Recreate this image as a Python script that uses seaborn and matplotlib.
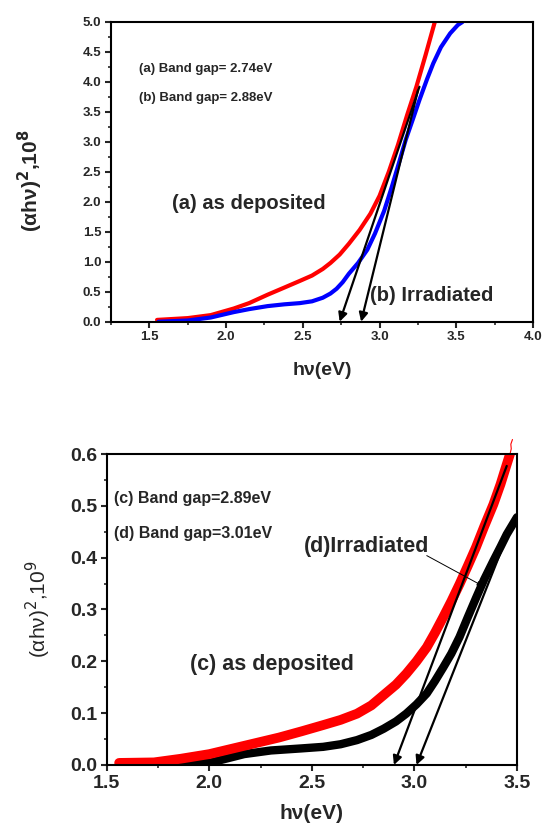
import numpy as np
import pandas as pd
import matplotlib
matplotlib.use("Agg")
import matplotlib.pyplot as plt
from matplotlib.ticker import MultipleLocator, FormatStrFormatter
import seaborn as sns

# datos leidos de la figura
# grafica superior: (a) as deposited / (b) irradiated
e_a = [1.55, 1.75, 1.90, 2.05, 2.15, 2.27, 2.38, 2.48, 2.56, 2.63, 2.68, 2.74, 2.80,
       2.87, 2.94, 3.00, 3.06, 3.12, 3.18, 3.24, 3.30, 3.36]
v_a = [0.03, 0.06, 0.11, 0.22, 0.31, 0.45, 0.57, 0.68, 0.77, 0.88, 0.98, 1.12, 1.30,
       1.53, 1.80, 2.10, 2.50, 2.95, 3.45, 3.92, 4.45, 5.00]
e_b = [1.56, 1.75, 1.90, 2.05, 2.15, 2.27, 2.38, 2.48, 2.56, 2.63, 2.68, 2.72, 2.76,
       2.80, 2.86, 2.92, 2.97, 3.03, 3.08, 3.13, 3.17, 3.22, 3.26, 3.31, 3.35, 3.40,
       3.46, 3.51, 3.54]
v_b = [0.00, 0.02, 0.07, 0.16, 0.21, 0.26, 0.29, 0.31, 0.34, 0.40, 0.47, 0.55, 0.66,
       0.80, 0.98, 1.20, 1.47, 1.85, 2.25, 2.68, 3.03, 3.40, 3.70, 4.05, 4.31, 4.58,
       4.81, 4.95, 5.00]

# grafica inferior: (c) as deposited / (d) irradiated
e_c = [1.56, 1.73, 1.86, 2.00, 2.17, 2.34, 2.45, 2.555, 2.64, 2.72, 2.79, 2.85, 2.91,
       2.96, 3.01, 3.06, 3.10, 3.14, 3.18, 3.22, 3.26, 3.30, 3.34, 3.385, 3.42, 3.45, 3.466]
v_c = [0.004, 0.005, 0.012, 0.021, 0.037, 0.053, 0.065, 0.077, 0.087, 0.099, 0.115,
       0.135, 0.155, 0.176, 0.200, 0.227, 0.255, 0.285, 0.316, 0.349, 0.384, 0.420,
       0.460, 0.503, 0.542, 0.580, 0.600]
e_c_tail = [3.466, 3.472, 3.470, 3.478]
v_c_tail = [0.600, 0.610, 0.619, 0.628]
e_d = [1.56, 1.83, 2.00, 2.17, 2.30, 2.45, 2.555, 2.64, 2.72, 2.79, 2.85, 2.91, 2.96,
       3.01, 3.06, 3.10, 3.14, 3.18, 3.22, 3.26, 3.30, 3.34, 3.385, 3.42, 3.45, 3.50]
v_d = [0.000, 0.000, 0.004, 0.021, 0.028, 0.032, 0.035, 0.040, 0.048, 0.058, 0.070,
       0.084, 0.099, 0.117, 0.138, 0.162, 0.188, 0.215, 0.247, 0.285, 0.322, 0.358,
       0.394, 0.421, 0.445, 0.478]

# rectas tangentes (inicio, corte con el eje)
tan_top = [((3.26, 3.92), (2.74, 0.0)), ((3.25, 3.86), (2.88, 0.0))]
tan_bot = [((3.45, 0.577), (2.90, 0.0)), ((3.45, 0.44), (3.01, 0.0))]

sns.set_style("ticks")
plt.rcParams['font.family'] = ['Liberation Sans', 'DejaVu Sans']

fig = plt.figure(figsize=(5.45, 8.27), dpi=100)
ax1 = fig.add_axes([0.2037, 0.611, 0.7743, 0.3624])
ax2 = fig.add_axes([0.196, 0.075, 0.7526, 0.376])

# ---- grafica superior ----
sns.lineplot(x=e_a, y=v_a, ax=ax1, color="#ff0000", lw=3, sort=False, solid_joinstyle="round")
sns.lineplot(x=e_b, y=v_b, ax=ax1, color="#0000ff", lw=3, sort=False, solid_joinstyle="round")
for (x0, y0), (x1, y1) in tan_top:
    ax1.annotate("", xy=(x1, y1), xytext=(x0, y0),
                 arrowprops=dict(arrowstyle="-|>", color="k", lw=1.6,
                                 mutation_scale=13, shrinkA=0, shrinkB=0))
ax1.set_xlim(1.25, 4.0)
ax1.set_ylim(0, 5.0)
ax1.xaxis.set_major_locator(MultipleLocator(0.5))
ax1.xaxis.set_minor_locator(MultipleLocator(0.25))
ax1.yaxis.set_major_locator(MultipleLocator(0.5))
ax1.yaxis.set_minor_locator(MultipleLocator(0.25))
ax1.xaxis.set_major_formatter(FormatStrFormatter("%.1f"))
ax1.yaxis.set_major_formatter(FormatStrFormatter("%.1f"))
ax1.text(1.435, 4.22, "(a) Band gap= 2.74eV", fontsize=9.5, fontweight="bold", va="center")
ax1.text(1.435, 3.74, "(b) Band gap= 2.88eV", fontsize=9.5, fontweight="bold", va="center")
ax1.text(1.648, 1.97, "(a) as deposited", fontsize=14.5, fontweight="bold", va="center")
ax1.text(2.94, 0.43, "(b) Irradiated", fontsize=14.5, fontweight="bold", va="center")
ax1.set_xlabel("hν(eV)", fontsize=14, fontweight="bold", va="top")
ax1.xaxis.set_label_coords(0.5, -0.135)
ax1.set_ylabel(r"(αhν)$^{\mathbf{2}}$,10$^{\mathbf{8}}$", fontsize=15, fontweight="bold")
ax1.yaxis.set_label_coords(-0.156, 0.47)
for lab in ax1.get_xticklabels() + ax1.get_yticklabels():
    lab.set_fontweight("bold")
    lab.set_fontsize(9.5)

# ---- grafica inferior ----
sns.lineplot(x=e_d, y=v_d, ax=ax2, color="black", lw=6, sort=False, solid_joinstyle="round")
sns.lineplot(x=e_c, y=v_c, ax=ax2, color="#ff0000", lw=7, sort=False, solid_joinstyle="round")
ax2.plot(e_c_tail, v_c_tail, color="#ff0000", lw=0.8, clip_on=False)
for (x0, y0), (x1, y1) in tan_bot:
    ax2.annotate("", xy=(x1, y1), xytext=(x0, y0),
                 arrowprops=dict(arrowstyle="-|>", color="k", lw=1.6,
                                 mutation_scale=13, shrinkA=0, shrinkB=0))
ax2.annotate("", xy=(3.33, 0.346), xytext=(3.06, 0.404),
             arrowprops=dict(arrowstyle="-|>", color="k", lw=0.7,
                             mutation_scale=7, shrinkA=0, shrinkB=0))
ax2.set_xlim(1.5, 3.5)
ax2.set_ylim(0, 0.6)
ax2.xaxis.set_major_locator(MultipleLocator(0.5))
ax2.xaxis.set_minor_locator(MultipleLocator(0.25))
ax2.yaxis.set_major_locator(MultipleLocator(0.1))
ax2.yaxis.set_minor_locator(MultipleLocator(0.05))
ax2.xaxis.set_major_formatter(FormatStrFormatter("%.1f"))
ax2.yaxis.set_major_formatter(FormatStrFormatter("%.1f"))
ax2.text(1.534, 0.515, "(c) Band gap=2.89eV", fontsize=11.5, fontweight="bold", va="center")
ax2.text(1.534, 0.446, "(d) Band gap=3.01eV", fontsize=11.5, fontweight="bold", va="center")
ax2.text(2.46, 0.422, "(d)Irradiated", fontsize=15.5, fontweight="bold", va="center")
ax2.text(1.905, 0.194, "(c) as deposited", fontsize=15.5, fontweight="bold", va="center")
ax2.set_xlabel("hν(eV)", fontsize=15, fontweight="bold", va="top")
ax2.xaxis.set_label_coords(0.5, -0.125)
ax2.set_ylabel(r"(αhν)$^{2}$,10$^{9}$", fontsize=15)
ax2.yaxis.set_label_coords(-0.132, 0.5)
for lab in ax2.get_xticklabels() + ax2.get_yticklabels():
    lab.set_fontweight("bold")
    lab.set_fontsize(14)

for ax in (ax1, ax2):
    for sp in ax.spines.values():
        sp.set_visible(True)
        sp.set_linewidth(1.5)
        sp.set_color("black")
    ax.tick_params(which="major", direction="out", length=4, width=1.5, pad=3)
    ax.tick_params(which="minor", direction="out", length=2.5, width=1.2)

fig.savefig("out.png", dpi=100)
